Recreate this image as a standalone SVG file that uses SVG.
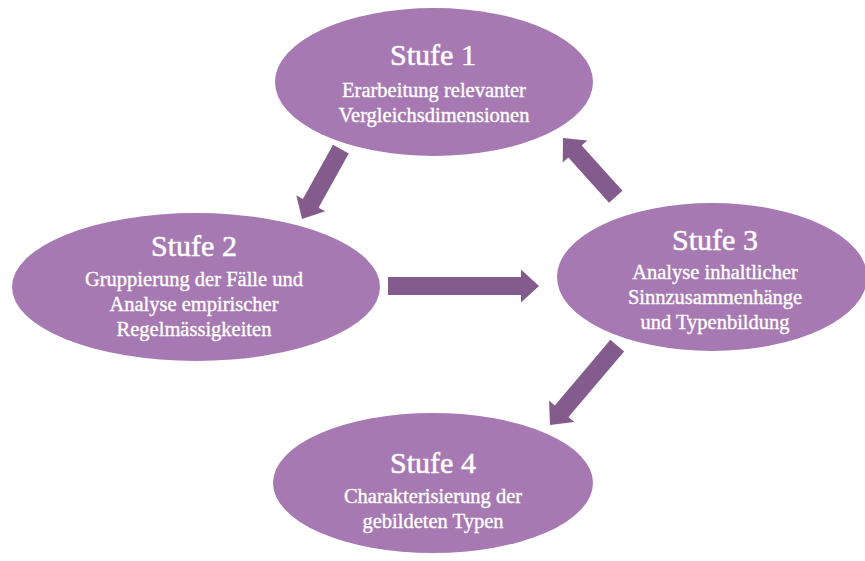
<svg xmlns="http://www.w3.org/2000/svg" width="865" height="561" viewBox="0 0 865 561">
  <style>
    .stage { fill: #A679B2; }
    .arrow { fill: #835C8D; }
    .title { font-family: "Liberation Serif", "Times New Roman", serif; font-size: 30px; fill: #FFFFFF; stroke: #FFFFFF; stroke-width: 0.5px; text-anchor: middle; }
    .desc { font-family: "Liberation Serif", "Times New Roman", serif; font-size: 20.5px; fill: #FFFFFF; stroke: #FFFFFF; stroke-width: 0.35px; text-anchor: middle; }
  </style>
  <defs>
    <!-- block arrow heads; tip at origin pointing +x -->
    <polygon id="head" points="-18,-9 -18,-16.5 0,0 -18,16.5 -18,9"/>
  </defs>
  <rect width="865" height="561" fill="#FFFFFF"/>

  <g id="connectors">
    <!-- Stufe 1 to Stufe 2 -->
    <g class="arrow" transform="translate(302,219) rotate(119.1)">
      <rect x="-80" y="-9" width="63" height="18"/>
      <use href="#head"/>
    </g>
    <!-- Stufe 2 to Stufe 3 -->
    <g class="arrow" transform="translate(539,286)">
      <rect x="-151" y="-9" width="134" height="18"/>
      <use href="#head"/>
    </g>
    <!-- Stufe 3 to Stufe 1 -->
    <g class="arrow" transform="translate(563,138) rotate(-131.9)">
      <rect x="-79" y="-9" width="62" height="18"/>
      <use href="#head"/>
    </g>
    <!-- Stufe 3 to Stufe 4 -->
    <g class="arrow" transform="translate(550,425) rotate(130.3)">
      <rect x="-104" y="-9" width="87" height="18"/>
      <use href="#head"/>
    </g>
  </g>

  <g id="stufe1">
    <ellipse class="stage" cx="434" cy="82" rx="159" ry="74"/>
    <text class="title" x="433" y="65">Stufe 1</text>
    <text class="desc" x="434" y="97">Erarbeitung relevanter</text>
    <text class="desc" x="434" y="122">Vergleichsdimensionen</text>
  </g>

  <g id="stufe2">
    <ellipse class="stage" cx="196" cy="287" rx="184" ry="74"/>
    <text class="title" x="194" y="256">Stufe 2</text>
    <text class="desc" x="194" y="286">Gruppierung der Fälle und</text>
    <text class="desc" x="194" y="311">Analyse empirischer</text>
    <text class="desc" x="194" y="336">Regelmässigkeiten</text>
  </g>

  <g id="stufe3">
    <ellipse class="stage" cx="712" cy="277" rx="155" ry="74"/>
    <text class="title" x="715" y="250">Stufe 3</text>
    <text class="desc" x="715" y="279">Analyse inhaltlicher</text>
    <text class="desc" x="715" y="304">Sinnzusammenhänge</text>
    <text class="desc" x="715" y="329">und Typenbildung</text>
  </g>

  <g id="stufe4">
    <ellipse class="stage" cx="433" cy="483" rx="160" ry="70"/>
    <text class="title" x="433" y="473">Stufe 4</text>
    <text class="desc" x="433" y="503">Charakterisierung der</text>
    <text class="desc" x="433" y="528">gebildeten Typen</text>
  </g>
</svg>
